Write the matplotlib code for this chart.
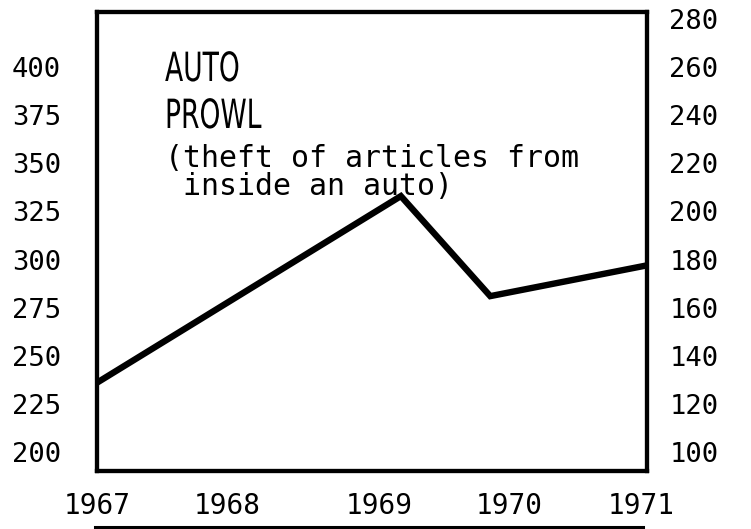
import matplotlib
matplotlib.use('Agg')
import matplotlib.pyplot as plt
from matplotlib.lines import Line2D
from matplotlib.patheffects import AbstractPathEffect
from matplotlib.transforms import Affine2D

# donnees (echelle de gauche)
years = [1967, 1969.21, 1969.86, 1971]
prowls = [236, 333, 281, 297]

left_ticks = [200, 225, 250, 275, 300, 325, 350, 375, 400]
right_ticks = [100, 120, 140, 160, 180, 200, 220, 240, 260, 280]
year_labels = ['1967', '1968', '1969', '1970', '1971']
year_pos = [1967, 1967.95, 1969.05, 1970.0, 1970.96]

mono = ['DejaVu Sans Mono']


# compresse le texte horizontalement (lettrage etroit du titre)
class Squeeze(AbstractPathEffect):
    def __init__(self, sx):
        super().__init__()
        self.sx = sx

    def draw_path(self, renderer, gc, tpath, affine, rgbFace=None):
        renderer.draw_path(gc, tpath, Affine2D().scale(self.sx, 1) + affine, rgbFace)


fig = plt.figure(figsize=(7.51, 5.29), dpi=100)
ax = fig.add_axes([97/751, 1 - 471/529, 550/751, 459/529])

ax.plot(years, prowls, color='black', lw=4.6, solid_joinstyle='miter', solid_capstyle='butt')

ax.set_xlim(1967, 1971)
ax.set_ylim(190.1, 428.7)
ax.set_yticks(left_ticks)
ax.set_yticklabels([str(t) for t in left_ticks], family=mono, fontsize=19.5)
ax.set_xticks(year_pos)
ax.set_xticklabels(year_labels, family=mono, fontsize=20)
ax.tick_params(axis='y', length=0, pad=26)
ax.tick_params(axis='x', length=0, pad=15)

ax2 = ax.twinx()
ax2.set_ylim(100 + (190.1 - 200) * 0.8, 100 + (428.7 - 200) * 0.8)
ax2.set_yticks(right_ticks)
ax2.set_yticklabels([str(t) for t in right_ticks], family=mono, fontsize=19.5)
ax2.tick_params(axis='y', length=0, pad=16)

for a in (ax, ax2):
    for s in a.spines.values():
        s.set_linewidth(3)
        s.set_color('black')

# titre dans le cadre
sq = [Squeeze(0.66)]
ax.text(165/751, 1 - 81/529, 'AUTO', transform=fig.transFigure, family='DejaVu Sans',
        fontsize=29, ha='left', va='baseline', path_effects=sq)
ax.text(165/751, 1 - 128/529, 'PROWL', transform=fig.transFigure, family='DejaVu Sans',
        fontsize=29, ha='left', va='baseline', path_effects=sq)
ax.text(165/751, 1 - 195/529, '(theft of articles from\n inside an auto)',
        transform=fig.transFigure, family=mono, fontsize=21.5, ha='left',
        va='baseline', linespacing=0.95)

# trait sous les annees
fig.add_artist(Line2D([95/751, 643/751], [1 - 527/529, 1 - 527/529], color='black', lw=2.2))

fig.savefig('out.png', dpi=100)
